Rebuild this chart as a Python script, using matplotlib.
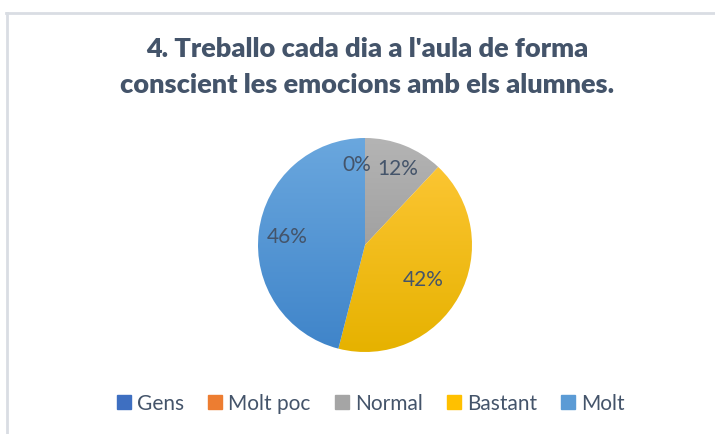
import matplotlib.pyplot as plt
import matplotlib.colors as mcolors
import numpy as np

title = "4. Treballo cada dia a l'aula de forma\nconscient les emocions amb els alumnes."
categories = ["Gens", "Molt poc", "Normal", "Bastant", "Molt"]
values = [0, 0, 12, 42, 46]

legend_colors = ["#3e6fc1", "#ed7d31", "#a5a5a5", "#ffc000", "#5b9bd5"]
# gradient top -> bottom for each slice
grad_top = ["#5a86d0", "#f29050", "#b4b4b4", "#ffc83a", "#6aa7de"]
grad_bot = ["#3560b0", "#d86a20", "#8e8e8e", "#e6b200", "#3f84c9"]
label_dist = [0.76, 0.76, 0.77, 0.66, 0.70]
label_dx = [-0.08, -0.08, 0.02, -0.03, -0.03]
txt_color = "#44546a"

plt.rcParams['font.family'] = ['Lato', 'DejaVu Sans']

fig = plt.figure(figsize=(7.15, 4.35), dpi=100)

# chart frame (top and left edges)
fig.add_artist(plt.Line2D([6 / 715, 1], [1 - 14 / 435, 1 - 14 / 435], color="#d9dde3", lw=2))
fig.add_artist(plt.Line2D([7 / 715, 7 / 715], [1 - 14 / 435, 0], color="#d9dde3", lw=2))

fig.text(367 / 715, 1 - 67 / 435, title, ha="center", va="center", fontsize=19.5,
         fontweight="heavy", color=txt_color, linespacing=1.62)

r = 107 / 100
cx, cy = 365 / 715, 1 - 246 / 435
w = 2.2 * r / 7.15
h = 2.2 * r / 4.35
ax = fig.add_axes([cx - w / 2, cy - h / 2, w, h])

wedges, _ = ax.pie(values, startangle=90, counterclock=False, radius=1.0,
                   colors=legend_colors, wedgeprops=dict(linewidth=0))

for i, wd in enumerate(wedges):
    wd.set_facecolor("none")
    if values[i] == 0:
        continue
    cmap = mcolors.LinearSegmentedColormap.from_list("g", [grad_bot[i], grad_top[i]])
    grad = np.linspace(0, 1, 256).reshape(-1, 1)
    im = ax.imshow(grad, cmap=cmap, extent=[-1, 1, -1, 1], origin="lower",
                   aspect="auto", zorder=1)
    im.set_clip_path(wd)

total = sum(values)
seen = set()
for i, wd in enumerate(wedges):
    # zero slices share one spot, their labels sit on top of each other
    key = (round(wd.theta1, 3), round(wd.theta2, 3))
    if key in seen:
        continue
    seen.add(key)
    ang = np.deg2rad((wd.theta1 + wd.theta2) / 2)
    d = label_dist[i]
    ax.text(d * np.cos(ang) + label_dx[i], d * np.sin(ang), f"{values[i] / total * 100:.0f}%",
            ha="center", va="center", fontsize=15, color=txt_color, zorder=3)

ax.set_xlim(-1.1, 1.1)
ax.set_ylim(-1.1, 1.1)
ax.set_aspect("equal")
ax.axis("off")

handles = [plt.Rectangle((0, 0), 1, 1, color=c) for c in legend_colors]
fig.legend(handles, categories, loc="center", bbox_to_anchor=(371 / 715, 1 - 404 / 435),
           ncol=5, frameon=False, fontsize=15, handlelength=0.67, handleheight=0.67,
           handletextpad=0.3, columnspacing=1.15, labelcolor=txt_color)

fig.savefig("out.png", dpi=100)
